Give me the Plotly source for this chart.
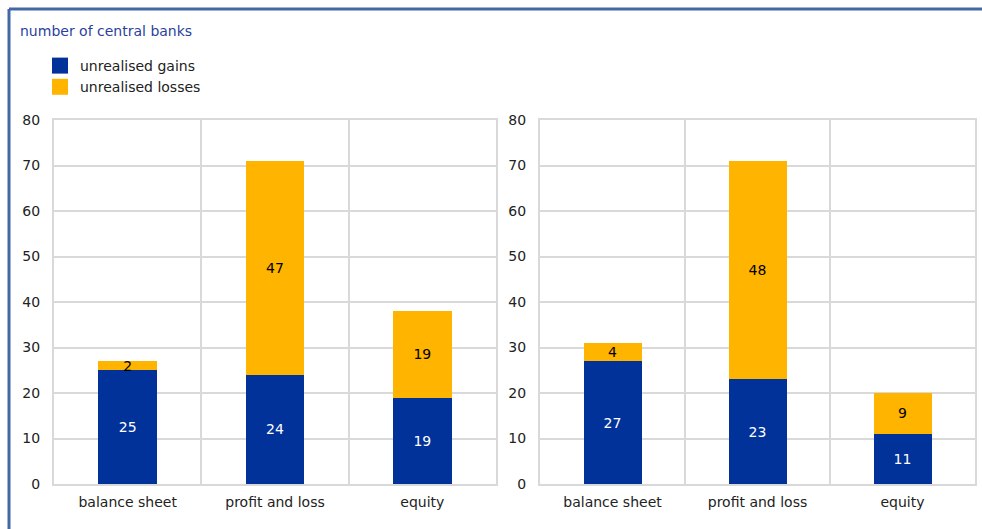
import plotly.graph_objects as go

# Data: number of central banks reporting unrealised gains / losses
categories = ["balance sheet", "profit and loss", "equity"]
gains_left = [25, 24, 19]
losses_left = [2, 47, 19]
gains_right = [27, 23, 11]
losses_right = [4, 48, 9]
y_ticks = [0, 10, 20, 30, 40, 50, 60, 70, 80]

BLUE = "#003299"
YELLOW = "#FFB400"
GRID = "#d9d9d9"
FONT = "DejaVu Sans, Verdana, sans-serif"
FS = 14
W, H = 982, 529

fig = go.Figure()

panels = [
    ("x", "y", gains_left, losses_left),
    ("x2", "y2", gains_right, losses_right),
]
for xa, ya, gains, losses in panels:
    fig.add_trace(go.Bar(
        x=categories, y=gains, name="unrealised gains", marker_color=BLUE,
        marker_line_width=0, width=0.4, text=[str(v) for v in gains],
        textposition="inside", insidetextanchor="middle", textangle=0,
        textfont=dict(color="white", size=FS, family=FONT),
        xaxis=xa, yaxis=ya, showlegend=False,
    ))
    fig.add_trace(go.Bar(
        x=categories, y=losses, name="unrealised losses", marker_color=YELLOW,
        marker_line_width=0, width=0.4, text=[str(v) for v in losses],
        textposition="inside", insidetextanchor="middle", textangle=0,
        textfont=dict(color="black", size=FS, family=FONT),
        xaxis=xa, yaxis=ya, showlegend=False,
    ))

# Legend entries with larger square keys
for name, color in [("unrealised gains", BLUE), ("unrealised losses", YELLOW)]:
    fig.add_trace(go.Scatter(
        x=[None], y=[None], mode="markers", name=name,
        marker=dict(symbol="square", size=16, color=color),
        xaxis="x", yaxis="y", showlegend=True,
    ))


def px_x(v):
    return v / W


def px_y(v):
    return 1 - v / H


xaxis_common = dict(
    type="category", tickson="boundaries", showgrid=True, gridcolor=GRID,
    gridwidth=2, showline=True, linecolor=GRID, linewidth=2, mirror=True,
    ticks="", tickfont=dict(size=FS, color="#222222", family=FONT),
    ticklabelstandoff=4, fixedrange=True, automargin=False,
    categoryorder="array", categoryarray=categories,
)
yaxis_common = dict(
    range=[0, 80], tickvals=y_ticks, showgrid=True, gridcolor=GRID,
    gridwidth=2, showline=True, linecolor=GRID, linewidth=2, mirror=True,
    ticks="", tickfont=dict(size=FS, color="#222222", family=FONT),
    ticklabelstandoff=9, zeroline=False, fixedrange=True, automargin=False,
)

fig.update_layout(
    width=W, height=H, autosize=False,
    margin=dict(l=0, r=0, t=0, b=0, pad=0),
    paper_bgcolor="white", plot_bgcolor="white",
    barmode="stack",
    font=dict(family=FONT, size=FS, color="#222222"),
    uniformtext=dict(minsize=FS, mode="show"),
    xaxis=dict(domain=[px_x(54), px_x(496)], anchor="y", **xaxis_common),
    yaxis=dict(domain=[px_y(484), px_y(120)], anchor="x", **yaxis_common),
    xaxis2=dict(domain=[px_x(540), px_x(975)], anchor="y2", **xaxis_common),
    yaxis2=dict(domain=[px_y(484), px_y(120)], anchor="x2", **yaxis_common),
    legend=dict(
        x=px_x(40), y=px_y(50), xanchor="left", yanchor="top",
        bgcolor="rgba(0,0,0,0)", font=dict(size=FS, color="#222222", family=FONT),
        itemwidth=30, traceorder="normal", itemsizing="trace",
    ),
    showlegend=True,
)

# Unit label
fig.add_annotation(
    x=px_x(18), y=px_y(31), xref="paper", yref="paper", xanchor="left",
    yanchor="middle", text="number of central banks", showarrow=False,
    font=dict(size=FS, color="#2a3f9f", family=FONT),
)

# Frame lines along the top and left edges
fig.add_shape(type="line", xref="paper", yref="paper",
              x0=px_x(9), x1=1, y0=px_y(9), y1=px_y(9),
              line=dict(color="#4268a6", width=3))
fig.add_shape(type="line", xref="paper", yref="paper",
              x0=px_x(9), x1=px_x(9), y0=px_y(9), y1=0,
              line=dict(color="#4268a6", width=3))

fig.write_html("out.html")
